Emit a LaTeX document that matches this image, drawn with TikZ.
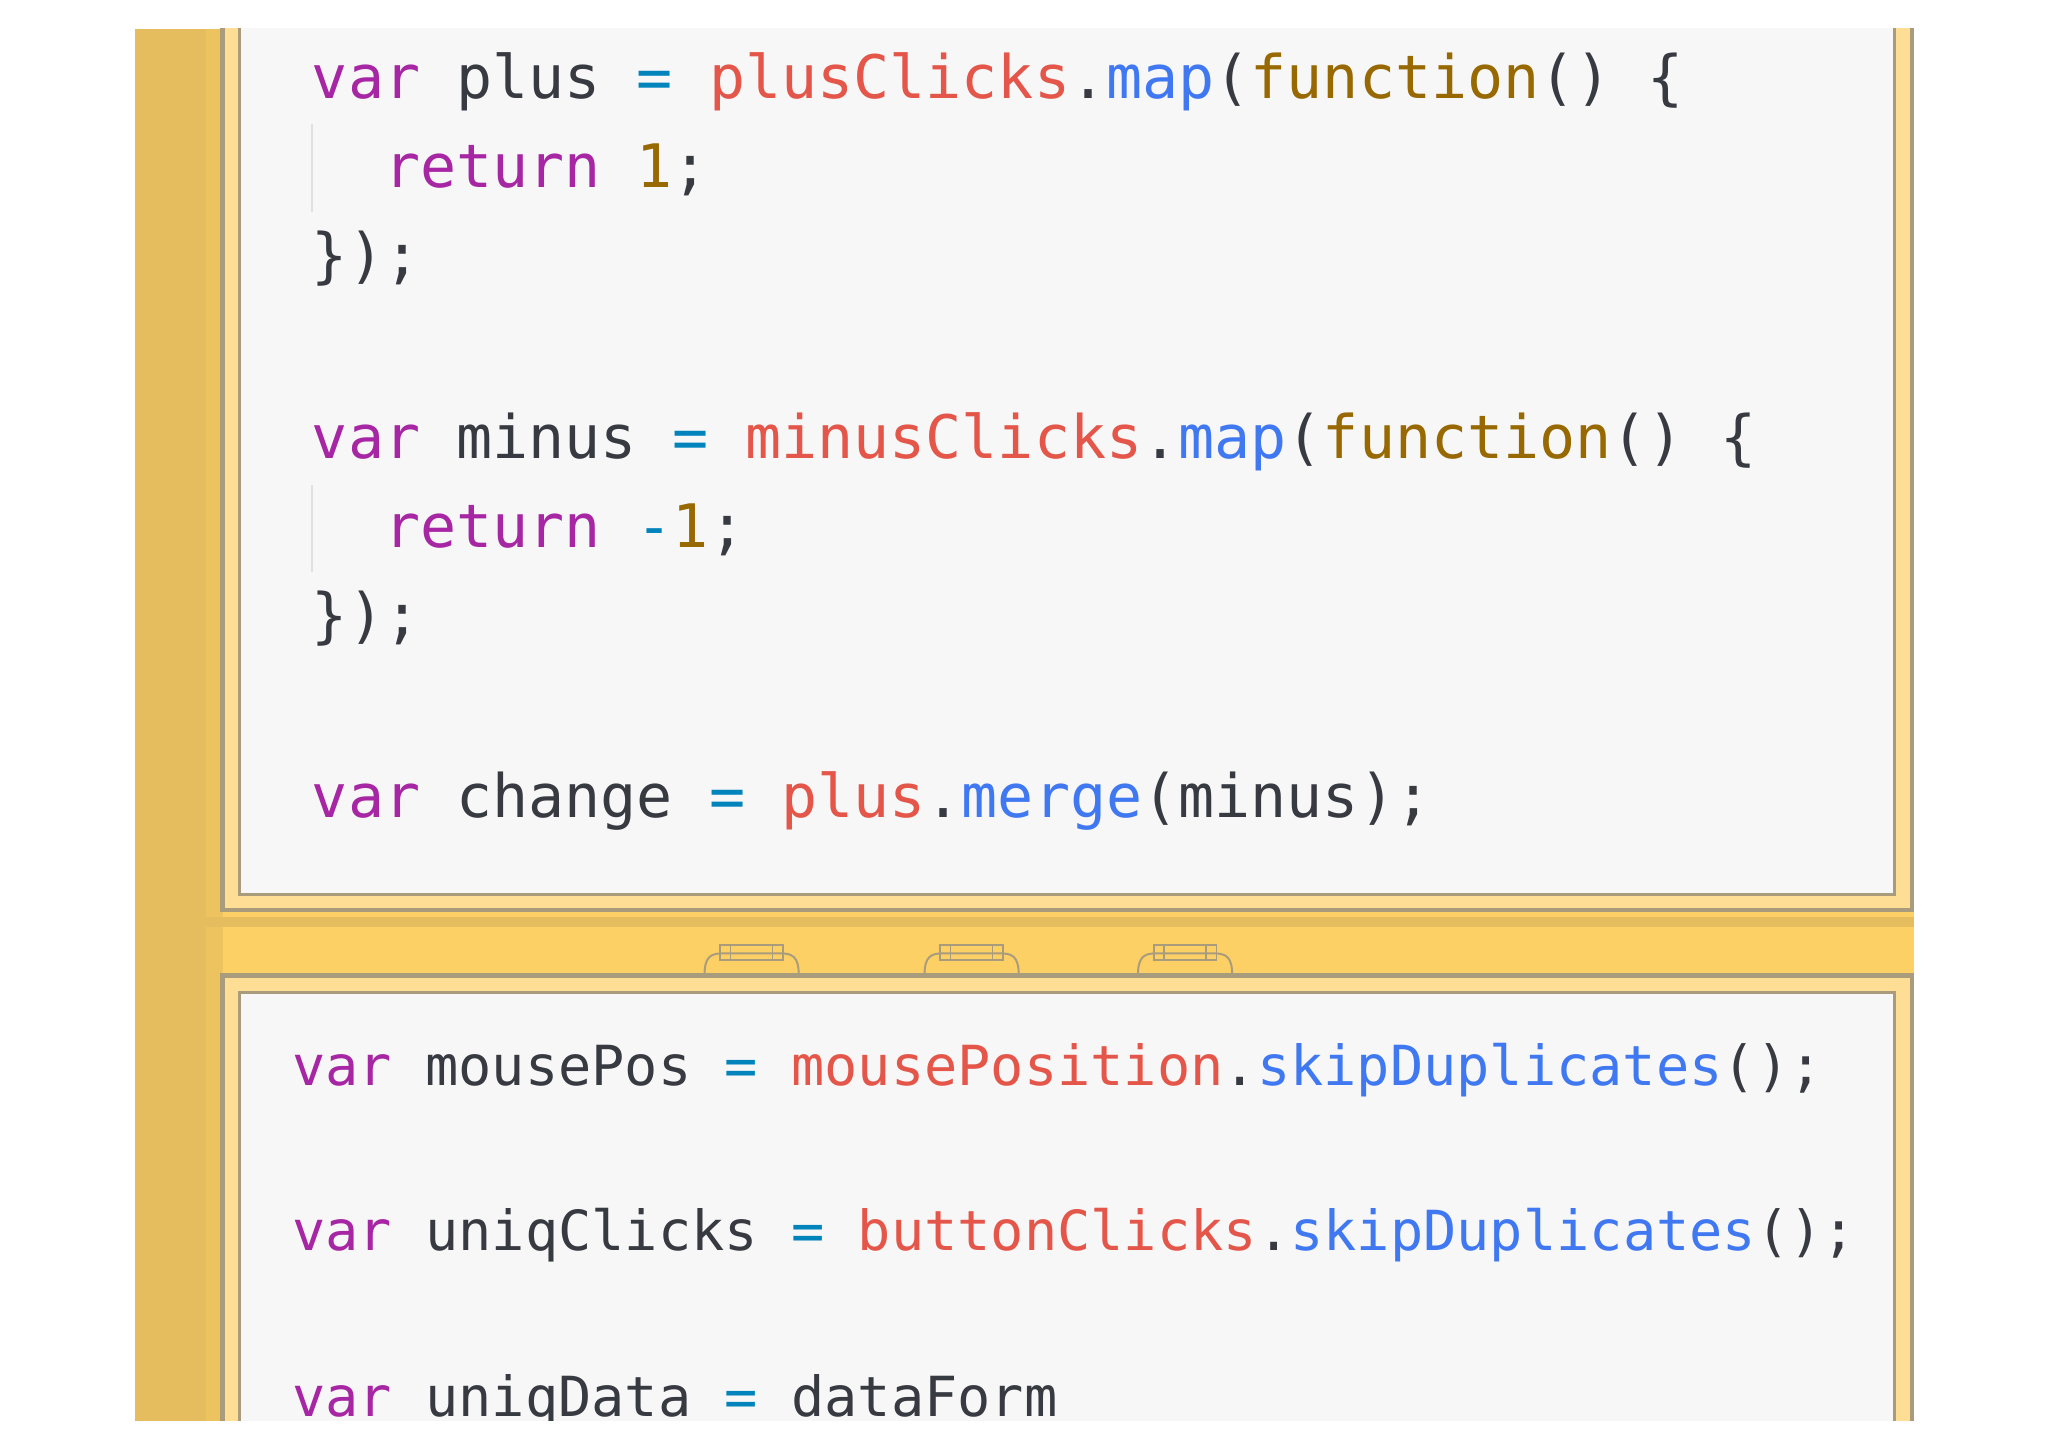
\documentclass[tikz,border=0pt]{standalone}
\usepackage{fontspec}
\newfontfamily\code{DejaVu Sans Mono}
\definecolor{cpur}{HTML}{A626A4}
\definecolor{cred}{HTML}{E45649}
\definecolor{cblu}{HTML}{4078F2}
\definecolor{cgol}{HTML}{986801}
\definecolor{ctea}{HTML}{0184BC}
\definecolor{ctxt}{HTML}{383A42}
\definecolor{yel}{HTML}{FDD066}
\definecolor{yeld}{HTML}{E6BD5E}
\definecolor{frm}{HTML}{A89C7C}
\newcommand{\kv}[1]{\textcolor{cpur}{#1}}
\newcommand{\kr}[1]{\textcolor{cred}{#1}}
\newcommand{\kb}[1]{\textcolor{cblu}{#1}}
\newcommand{\kg}[1]{\textcolor{cgol}{#1}}
\newcommand{\kt}[1]{\textcolor{ctea}{#1}}
\begin{document}
\begin{tikzpicture}[x=1pt,y=-1pt,
  ln/.style={anchor=base west,inner sep=0,text=ctxt,font=\code\fontsize{45.8}{50}\selectfont},
  lb/.style={anchor=base west,inner sep=0,text=ctxt,font=\code\fontsize{42.2}{46}\selectfont}]
\useasboundingbox (0,0) rectangle (1564,1106);
\fill[white] (0,0) rectangle (1564,1106);
\begin{scope}
\clip (103,22) rectangle (1462,1085);
\fill[yel] (103,22) rectangle (1462,1085);
\fill[yeld] (103,22) rectangle (157,1085);
\fill[yeld!70!yel] (157,22) rectangle (170,1085);
\fill[yeld] (103,700) rectangle (1462,708);
% top panel
\draw[frm,line width=3.5,fill=yel!70!white] (170,0) rectangle (1460,695);
\draw[frm,line width=2.5,fill=white!97!black] (183,0) rectangle (1447,683);
% bottom panel
\draw[frm,line width=3.5,fill=yel!70!white] (170,745) rectangle (1460,1120);
\draw[frm,line width=2.5,fill=white!97!black] (183,758) rectangle (1447,1120);
% hinges
\foreach \hx/\nm in {538/ha,706/hb,869/hc}{
  \draw[frm,line width=1.5] (\hx,745) .. controls (\hx,730) and (\hx+5,728) .. (\hx+15,728) -- (\hx+57,728) .. controls (\hx+67,728) and (\hx+72,730) .. (\hx+72,745);
  \draw[frm,line width=1.5] (\hx+12,733) rectangle (\hx+60,722);
  \draw[frm,line width=1] (\hx+20,722) -- (\hx+20,733) (\hx+52,722) -- (\hx+52,733);
}
% indent guides
\draw[black!12,line width=1.5] (238,95) -- (238,162) (238,370) -- (238,437);
\node[ln] (l1) at (238,75) {\kv{var} plus \kt{=} \kr{plusClicks}.\kb{map}(\kg{function}() \{};
\node[ln] (l2) at (238,143) {\phantom{re}\kv{return} \kg{1};};
\node[ln] (l3) at (238,211) {\});};
\node[ln] (l4) at (238,350) {\kv{var} minus \kt{=} \kr{minusClicks}.\kb{map}(\kg{function}() \{};
\node[ln] (l5) at (238,418) {\phantom{re}\kv{return} \kt{-}\kg{1};};
\node[ln] (l6) at (238,486) {\});};
\node[ln] (l7) at (238,624) {\kv{var} change \kt{=} \kr{plus}.\kb{merge}(minus);};
\node[lb] (b1) at (223,829) {\kv{var} mousePos \kt{=} \kr{mousePosition}.\kb{skipDuplicates}();};
\node[lb] (b2) at (223,955) {\kv{var} uniqClicks \kt{=} \kr{buttonClicks}.\kb{skipDuplicates}();};
\node[lb] (b3) at (223,1082) {\kv{var} uniqData \kt{=} dataForm};
\end{scope}
\end{tikzpicture}
\end{document}
